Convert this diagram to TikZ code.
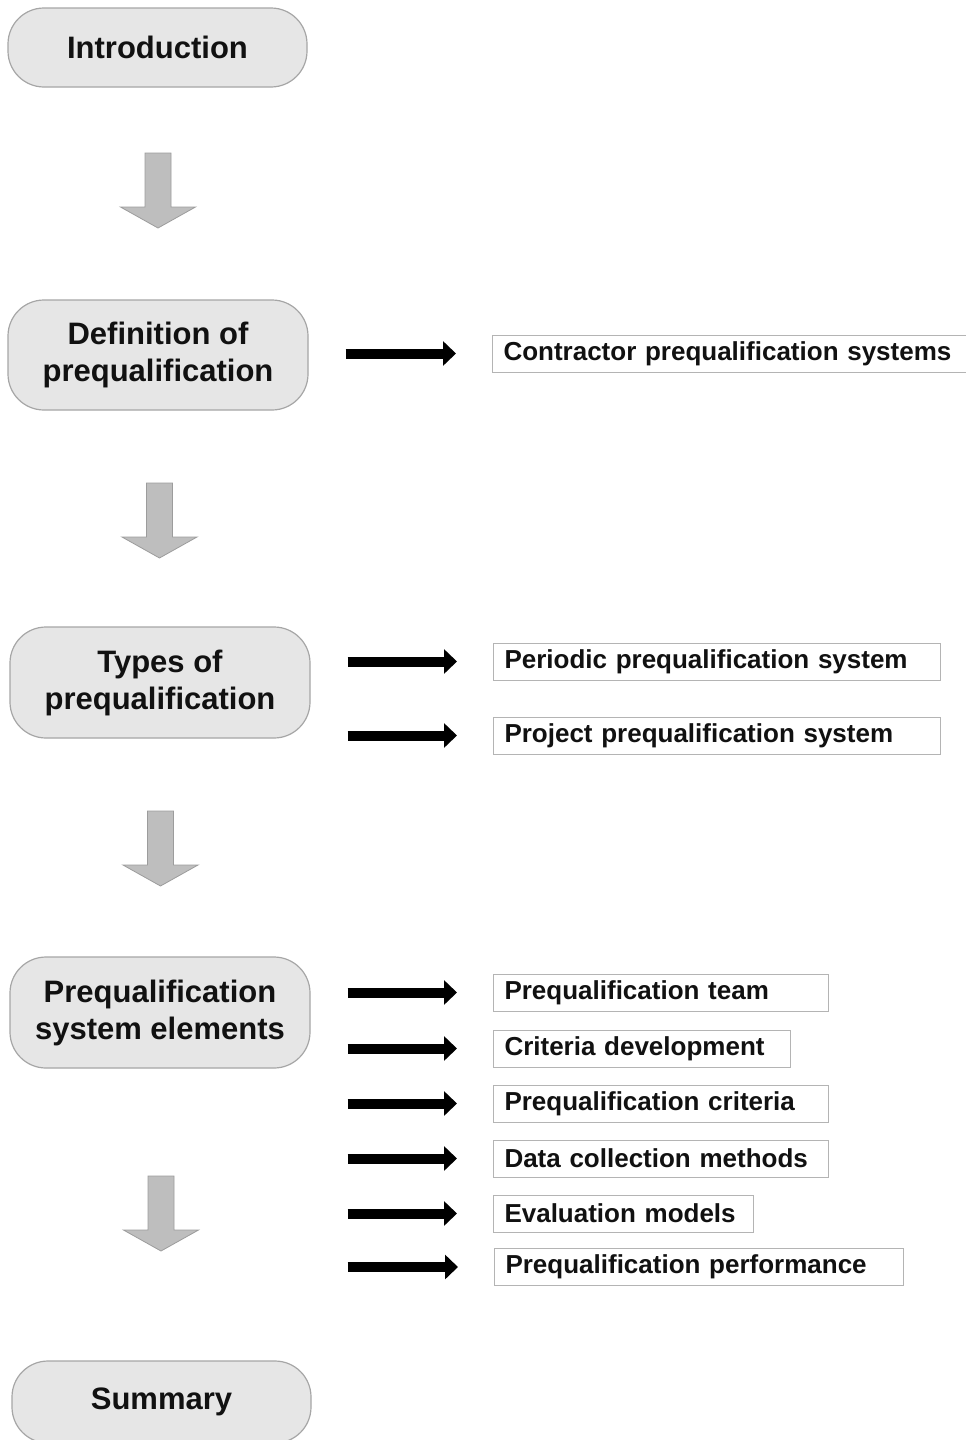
\documentclass[tikz,border=0pt]{standalone}
\usepackage{fontspec}
\setmainfont{Liberation Sans}
\usetikzlibrary{arrows.meta}

\definecolor{boxfill}{HTML}{E6E6E6}
\definecolor{boxline}{HTML}{A6A6A6}
\definecolor{arrfill}{HTML}{BEBEBE}
\definecolor{arredge}{HTML}{9C9C9C}
\definecolor{itemline}{HTML}{B4B4B4}
\definecolor{ink}{HTML}{111111}

\tikzset{
  stage/.style={draw=boxline, line width=1.2pt, fill=boxfill, rounded corners=36pt,
    minimum width=300pt, align=center, inner sep=0pt, text=ink,
    font=\bfseries\fontsize{31}{37}\selectfont},
  item/.style={draw=itemline, line width=1pt, anchor=west, minimum height=37pt,
    inner xsep=11pt, inner ysep=0pt, align=left, text width=#1, text=ink,
    font=\bfseries\fontsize{26}{30}\selectfont},
  link/.style={line width=10pt, -{Triangle[length=13pt,width=24pt]},
    shorten <=37pt, shorten >=36pt},
  pics/downarrow/.style={code={
    \filldraw[fill=arrfill, draw=arredge, line width=0.8pt]
      (-13,0) -- (13,0) -- (13,54) -- (37.5,54) -- (0,75) -- (-37.5,54) -- (-13,54) -- cycle;}}
}

\begin{document}
\begin{tikzpicture}[x=1pt, y=-1pt]
  \useasboundingbox (0,0) rectangle (966,1440);
  \clip (0,0) rectangle (966,1440);
  \fill[white] (0,0) rectangle (966,1440);

  % main stages
  \node[stage, minimum width=299pt, minimum height=79pt] (intro) at (157.5,47.5) {Introduction};
  \node[stage, minimum height=110pt] (def) at (158,355) {Definition of\\prequalification};
  \node[stage, minimum height=111pt] (types) at (160,682.5) {Types of\\prequalification};
  \node[stage, minimum height=111pt] (elem) at (160,1012.5) {Prequalification\\system elements};
  \node[stage, minimum width=299pt, minimum height=82pt] (summary) at (161.5,1402) {Summary};

  % flow arrows between stages
  \pic at (158,153) {downarrow};
  \pic at (159.5,483) {downarrow};
  \pic at (160.5,811) {downarrow};
  \pic at (161,1176) {downarrow};

  % detail boxes
  \node[item=452pt] (cps) at (492,353.5) {Contractor prequalification systems};
  \node[item=425pt] (per) at (493,661.5) {Periodic prequalification system};
  \node[item=425pt] (proj) at (493,735.5) {Project prequalification system};
  \node[item=313pt] (team) at (493,992.5) {Prequalification team};
  \node[item=275pt] (crdev) at (493,1048.5) {Criteria development};
  \node[item=313pt] (crit) at (493,1103.5) {Prequalification criteria};
  \node[item=313pt] (data) at (493,1158.5) {Data collection methods};
  \node[item=238pt] (eval) at (493,1213.5) {Evaluation models};
  \node[item=387pt] (perf) at (494,1267) {Prequalification performance};

  % links from stages to details
  \draw[link] (def.east |- cps) -- (cps.west);
  \draw[link] (types.east |- per) -- (per.west);
  \draw[link] (types.east |- proj) -- (proj.west);
  \foreach \t in {team,crdev,crit,data,eval,perf}
    \draw[link] (elem.east |- \t) -- (\t.west);
\end{tikzpicture}
\end{document}
